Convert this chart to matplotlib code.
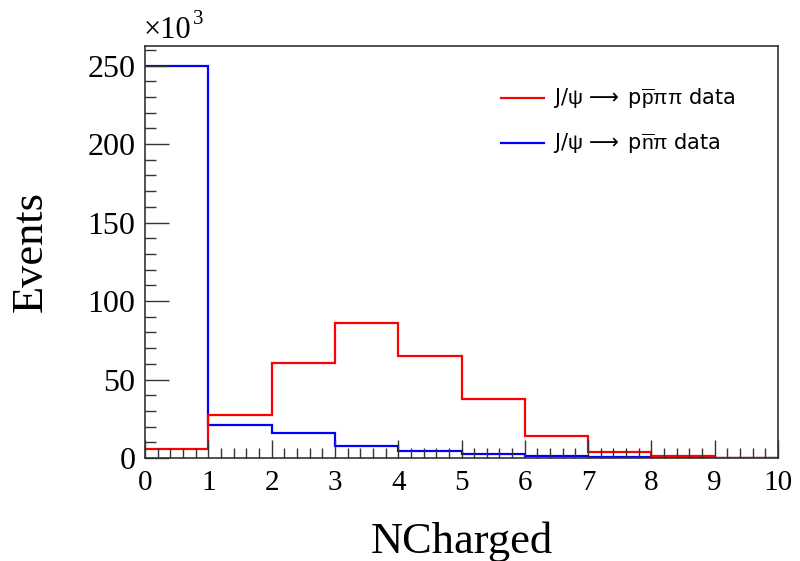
import matplotlib
matplotlib.use("Agg")
import matplotlib.pyplot as plt
import numpy as np
from matplotlib.ticker import MultipleLocator

# Data (in units of 10^3 events)
bin_edges = np.arange(0, 11, 1)
ppipi_values = [5.5, 27.6, 60.5, 86.3, 65.0, 37.8, 13.8, 4.0, 1.0, 0.3]
pnpi_values = [249.5, 21.0, 16.0, 7.6, 4.6, 2.3, 1.0, 0.4, 0.15, 0.05]
labels = [r'J/$\psi\,\mathsf{\longrightarrow}\ $p$\overline{\rm p}$$\pi\pi$ data',
          r'J/$\psi\,\mathsf{\longrightarrow}\ $p$\overline{\rm n}$$\pi$ data']
x_ticks = list(range(0, 11))
y_ticks = [0, 50, 100, 150, 200, 250]

plt.rcParams['mathtext.fontset'] = 'custom'
plt.rcParams['mathtext.rm'] = 'Liberation Sans'
plt.rcParams['mathtext.it'] = 'Liberation Sans'
plt.rcParams['mathtext.sf'] = 'DejaVu Sans'
plt.rcParams['mathtext.default'] = 'rm'

fig = plt.figure(figsize=(8.0, 5.61), dpi=100)
ax = fig.add_axes([145/800, 1 - 458/561, (778-145)/800, (458-46)/561])

ax.stairs(pnpi_values, bin_edges, baseline=None, color='#0000ff', linewidth=1.6, label=labels[1])
ax.stairs(ppipi_values, bin_edges, baseline=None, color='#ff0000', linewidth=1.6, label=labels[0])

ax.set_xlim(0, 10)
ax.set_ylim(0, 262.5)
ax.set_xticks(x_ticks)
ax.set_yticks(y_ticks)
ax.xaxis.set_minor_locator(MultipleLocator(0.2))
ax.yaxis.set_minor_locator(MultipleLocator(10))
ax.tick_params(which='both', direction='in', top=False, right=False, color='#333333')
ax.tick_params(axis='x', which='major', length=13, width=1.0, pad=9)
ax.tick_params(axis='x', which='minor', length=7, width=1.0)
ax.tick_params(axis='y', which='major', length=17, width=1.0, pad=7)
ax.tick_params(axis='y', which='minor', length=8, width=1.0)
for lab in ax.get_xticklabels():
    lab.set_family('Liberation Serif')
    lab.set_fontsize(21)
for lab in ax.get_yticklabels():
    lab.set_family('Liberation Serif')
    lab.set_fontsize(23)
for s in ax.spines.values():
    s.set_linewidth(1.2)
    s.set_color('#333333')

ax.set_xlabel('NCharged', family='Liberation Serif', fontsize=32, labelpad=18)
ax.set_ylabel('Events', family='Liberation Serif', fontsize=32, labelpad=26)

fig.text(144/800, 1 - 38/561, '×10', family='Liberation Serif', fontsize=22, ha='left', va='baseline')
fig.text(193/800, 1 - 24/561, '3', family='Liberation Serif', fontsize=15, ha='left', va='baseline')

handles, labs = ax.get_legend_handles_labels()
ax.legend(handles[::-1], labs[::-1], loc='upper left', bbox_to_anchor=(482/800, 1 - 68/561),
          bbox_transform=fig.transFigure, frameon=False, fontsize=15, handlelength=2.07,
          handletextpad=0.43, labelspacing=1.0)

fig.savefig('out.png', dpi=100)
